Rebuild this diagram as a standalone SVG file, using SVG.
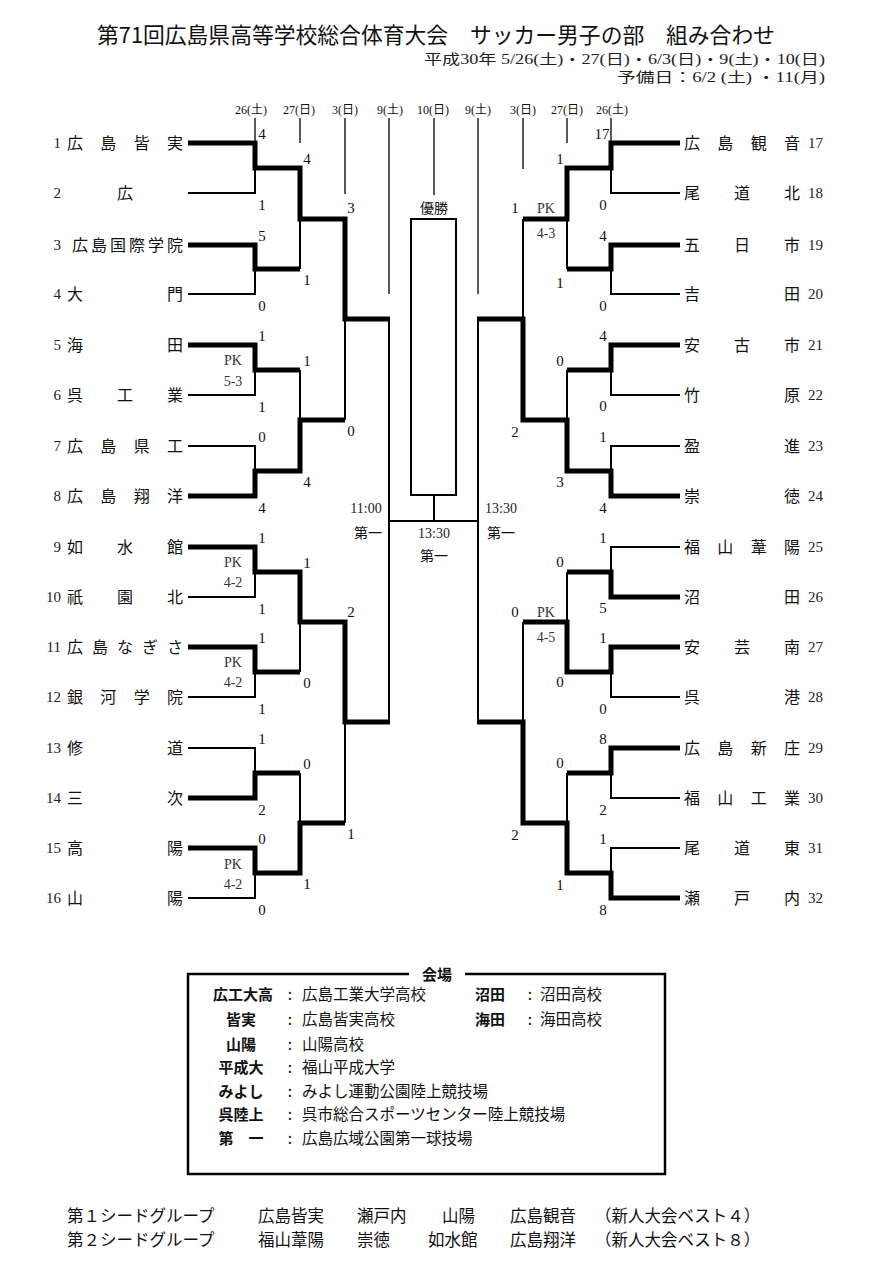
<svg xmlns="http://www.w3.org/2000/svg" width="877" height="1279" viewBox="0 0 877 1279">
<style>
.thin{stroke:#000;stroke-width:2;fill:none}
.thick{stroke:#000;stroke-width:5;fill:none;stroke-linejoin:miter}
.tick{stroke:#000;stroke-width:1.3;fill:none}
.name{font-family:"Noto Sans CJK JP",sans-serif;font-size:16px;fill:#111}
.num{font-family:"Liberation Serif","Noto Sans CJK JP",serif;font-size:15px;fill:#222}
.numr{font-family:"Liberation Serif","Noto Sans CJK JP",serif;font-size:15px;fill:#222}
.sc{font-family:"Liberation Serif",serif;font-size:15px;text-anchor:middle;fill:#111}
.pk{font-family:"Liberation Serif",serif;font-size:14px;text-anchor:middle;fill:#333}
.date{font-family:"Liberation Serif","Noto Sans CJK JP",serif;font-size:12px;text-anchor:middle;fill:#111}
.lbl{font-family:"Liberation Serif","Noto Sans CJK JP",serif;font-size:14px;text-anchor:middle;fill:#222}
.cjk{font-family:"Noto Sans CJK JP",sans-serif;fill:#111}
.v{font-family:"Noto Sans CJK JP",sans-serif;font-size:15.5px;fill:#111}
.vb{font-family:"Noto Sans CJK JP",sans-serif;font-size:15px;font-weight:bold;fill:#111;text-anchor:middle}
.ft{font-family:"Noto Sans CJK JP",sans-serif;font-size:16.5px;fill:#111}
</style>
<rect width="877" height="1279" fill="#fff"/>

<g id="header">
<text x="436" y="43" class="cjk" font-size="22" text-anchor="middle" textLength="678" lengthAdjust="spacingAndGlyphs">第71回広島県高等学校総合体育大会　サッカー男子の部　組み合わせ</text>
<text x="825" y="64" class="lbl" style="text-anchor:end" textLength="401" lengthAdjust="spacingAndGlyphs">平成30年 5/26(土)・27(日)・6/3(日)・9(土)・10(日)</text>
<text x="825" y="82" class="lbl" style="text-anchor:end" textLength="208" lengthAdjust="spacingAndGlyphs">予備日：6/2 (土) ・11(月)</text>
</g>

<g id="dates">
<text x="251" y="114" class="date">26(土)</text>
<text x="299" y="114" class="date">27(日)</text>
<text x="345" y="114" class="date">3(日)</text>
<text x="390" y="114" class="date">9(土)</text>
<text x="433" y="114" class="date">10(日)</text>
<text x="478" y="114" class="date">9(土)</text>
<text x="523" y="114" class="date">3(日)</text>
<text x="567" y="114" class="date">27(日)</text>
<text x="612" y="114" class="date">26(土)</text>
</g>

<g id="connectors">
<path class="tick" d="M255,118V143M300,118V143M345,118V194M389,118V294M434,118V195M478,118V294M523,118V169M567,118V143M611,118V143"/>
<path class="thin" d="M188,193H255V168M188,294H255V269M188,395H255V370M188,446H255V471M188,597H255V572M188,697H255V672M188,748H255V773M188,898H255V873"/>
<path class="thin" d="M300,219V269M300,370V420M300,622V672M300,773V823M345,319V420M345,722V823M389,319V722M389,521H478"/>
<path class="thin" d="M680,193H611V168M680,294H611V269M680,395H611V370M680,446H611V471M680,547H611V572M680,697H611V672M680,798H611V773M680,848H611V873"/>
<path class="thin" d="M567,219V269M567,370V420M567,572V622M567,773V823M523,219V319M523,622V722M478,319V722"/>
<path class="thick" d="M188,143H255V168H300V219H345V319H390"/>
<path class="thick" d="M188,245H255V269H300"/>
<path class="thick" d="M188,345H255V370H300"/>
<path class="thick" d="M188,496H255V471H300V420H345"/>
<path class="thick" d="M188,547H255V572H300V622H345V722H390"/>
<path class="thick" d="M188,647H255V672H300"/>
<path class="thick" d="M188,798H255V773H300"/>
<path class="thick" d="M188,848H255V873H300V823H345"/>
<path class="thick" d="M680,143H611V168H567V219H523"/>
<path class="thick" d="M680,245H611V269H567"/>
<path class="thick" d="M680,345H611V370H567"/>
<path class="thick" d="M680,496H611V471H567V420H523V319H477"/>
<path class="thick" d="M680,597H611V572H567"/>
<path class="thick" d="M680,647H611V672H567V622H523"/>
<path class="thick" d="M680,748H611V773H567"/>
<path class="thick" d="M680,898H611V873H567V823H523V722H477"/>
<path class="thin" d="M434,495V521"/>
</g>

<g id="champion">
<rect x="411" y="219" width="45" height="276" fill="none" stroke="#000" stroke-width="2"/>
<text x="434" y="213" class="cjk" font-size="14" text-anchor="middle">優勝</text>
<text x="434" y="538" class="lbl">13:30</text>
<text x="434" y="561" class="cjk" font-size="14" text-anchor="middle">第一</text>
</g>
<g id="semi-left-label">
<text x="366" y="513" class="lbl">11:00</text>
<text x="368" y="538" class="cjk" font-size="14" text-anchor="middle">第一</text>
</g>
<g id="semi-right-label">
<text x="501" y="513" class="lbl">13:30</text>
<text x="501" y="538" class="cjk" font-size="14" text-anchor="middle">第一</text>
</g>

<g id="scores">
<text x="262" y="139" class="sc">4</text><text x="262" y="210" class="sc">1</text>
<text x="262" y="241" class="sc">5</text><text x="262" y="311" class="sc">0</text>
<text x="262" y="341" class="sc">1</text><text x="262" y="412" class="sc">1</text>
<text x="262" y="442" class="sc">0</text><text x="262" y="513" class="sc">4</text>
<text x="262" y="543" class="sc">1</text><text x="262" y="614" class="sc">1</text>
<text x="262" y="643" class="sc">1</text><text x="262" y="714" class="sc">1</text>
<text x="262" y="744" class="sc">1</text><text x="262" y="815" class="sc">2</text>
<text x="262" y="844" class="sc">0</text><text x="262" y="915" class="sc">0</text>
<text x="233" y="365" class="pk">PK</text><text x="233" y="386" class="pk">5-3</text>
<text x="233" y="567" class="pk">PK</text><text x="233" y="587" class="pk">4-2</text>
<text x="233" y="667" class="pk">PK</text><text x="233" y="687" class="pk">4-2</text>
<text x="233" y="869" class="pk">PK</text><text x="233" y="889" class="pk">4-2</text>
<text x="307" y="164" class="sc">4</text><text x="307" y="285" class="sc">1</text>
<text x="307" y="366" class="sc">1</text><text x="307" y="487" class="sc">4</text>
<text x="307" y="568" class="sc">1</text><text x="307" y="688" class="sc">0</text>
<text x="307" y="769" class="sc">0</text><text x="307" y="889" class="sc">1</text>
<text x="351" y="213" class="sc">3</text><text x="351" y="436" class="sc">0</text>
<text x="351" y="617" class="sc">2</text><text x="351" y="839" class="sc">1</text>

<text x="602" y="139" class="sc">17</text><text x="603" y="210" class="sc">0</text>
<text x="603" y="241" class="sc">4</text><text x="603" y="311" class="sc">0</text>
<text x="603" y="341" class="sc">4</text><text x="603" y="411" class="sc">0</text>
<text x="603" y="442" class="sc">1</text><text x="603" y="513" class="sc">4</text>
<text x="603" y="543" class="sc">1</text><text x="603" y="613" class="sc">5</text>
<text x="603" y="643" class="sc">1</text><text x="603" y="714" class="sc">0</text>
<text x="603" y="744" class="sc">8</text><text x="603" y="815" class="sc">2</text>
<text x="603" y="844" class="sc">1</text><text x="603" y="915" class="sc">8</text>
<text x="560" y="164" class="sc">1</text><text x="560" y="288" class="sc">1</text>
<text x="560" y="366" class="sc">0</text><text x="560" y="487" class="sc">3</text>
<text x="560" y="567" class="sc">0</text><text x="560" y="687" class="sc">0</text>
<text x="560" y="768" class="sc">0</text><text x="560" y="890" class="sc">1</text>
<text x="515" y="213" class="sc">1</text><text x="515" y="437" class="sc">2</text>
<text x="515" y="617" class="sc">0</text><text x="515" y="840" class="sc">2</text>
<text x="546" y="213" class="pk">PK</text><text x="546" y="238" class="pk">4-3</text>
<text x="546" y="617" class="pk">PK</text><text x="546" y="642" class="pk">4-5</text>
</g>

<g id="team-1"><text x="61" y="148" class="num" text-anchor="end">1</text><text x="67 100.3 133.7 167" y="149" class="name">広島皆実</text></g>
<g id="team-2"><text x="61" y="198" class="num" text-anchor="end">2</text><text x="117" y="199" class="name">広</text></g>
<g id="team-3"><text x="61" y="250" class="num" text-anchor="end">3</text><text x="72 91 110 129 148 167" y="251" class="name">広島国際学院</text></g>
<g id="team-4"><text x="61" y="299" class="num" text-anchor="end">4</text><text x="67 167" y="300" class="name">大門</text></g>
<g id="team-5"><text x="61" y="350" class="num" text-anchor="end">5</text><text x="67 167" y="351" class="name">海田</text></g>
<g id="team-6"><text x="61" y="400" class="num" text-anchor="end">6</text><text x="67 117 167" y="401" class="name">呉工業</text></g>
<g id="team-7"><text x="61" y="451" class="num" text-anchor="end">7</text><text x="67 100.3 133.7 167" y="452" class="name">広島県工</text></g>
<g id="team-8"><text x="61" y="501" class="num" text-anchor="end">8</text><text x="67 100.3 133.7 167" y="502" class="name">広島翔洋</text></g>
<g id="team-9"><text x="61" y="552" class="num" text-anchor="end">9</text><text x="67 117 167" y="553" class="name">如水館</text></g>
<g id="team-10"><text x="61" y="602" class="num" text-anchor="end">10</text><text x="67 117 167" y="603" class="name">祇園北</text></g>
<g id="team-11"><text x="61" y="652" class="num" text-anchor="end">11</text><text x="67 92 117 142 167" y="653" class="name">広島なぎさ</text></g>
<g id="team-12"><text x="61" y="702" class="num" text-anchor="end">12</text><text x="67 100.3 133.7 167" y="703" class="name">銀河学院</text></g>
<g id="team-13"><text x="61" y="753" class="num" text-anchor="end">13</text><text x="67 167" y="754" class="name">修道</text></g>
<g id="team-14"><text x="61" y="803" class="num" text-anchor="end">14</text><text x="67 167" y="804" class="name">三次</text></g>
<g id="team-15"><text x="61" y="853" class="num" text-anchor="end">15</text><text x="67 167" y="854" class="name">高陽</text></g>
<g id="team-16"><text x="61" y="903" class="num" text-anchor="end">16</text><text x="67 167" y="904" class="name">山陽</text></g>

<g id="team-17"><text x="684 717.3 750.7 784" y="149" class="name">広島観音</text><text x="808" y="148" class="numr">17</text></g>
<g id="team-18"><text x="684 734 784" y="199" class="name">尾道北</text><text x="808" y="198" class="numr">18</text></g>
<g id="team-19"><text x="684 734 784" y="251" class="name">五日市</text><text x="808" y="250" class="numr">19</text></g>
<g id="team-20"><text x="684 784" y="300" class="name">吉田</text><text x="808" y="299" class="numr">20</text></g>
<g id="team-21"><text x="684 734 784" y="351" class="name">安古市</text><text x="808" y="350" class="numr">21</text></g>
<g id="team-22"><text x="684 784" y="401" class="name">竹原</text><text x="808" y="400" class="numr">22</text></g>
<g id="team-23"><text x="684 784" y="452" class="name">盈進</text><text x="808" y="451" class="numr">23</text></g>
<g id="team-24"><text x="684 784" y="502" class="name">崇徳</text><text x="808" y="501" class="numr">24</text></g>
<g id="team-25"><text x="684 717.3 750.7 784" y="553" class="name">福山葦陽</text><text x="808" y="552" class="numr">25</text></g>
<g id="team-26"><text x="684 784" y="603" class="name">沼田</text><text x="808" y="602" class="numr">26</text></g>
<g id="team-27"><text x="684 734 784" y="653" class="name">安芸南</text><text x="808" y="652" class="numr">27</text></g>
<g id="team-28"><text x="684 784" y="703" class="name">呉港</text><text x="808" y="702" class="numr">28</text></g>
<g id="team-29"><text x="684 717.3 750.7 784" y="754" class="name">広島新庄</text><text x="808" y="753" class="numr">29</text></g>
<g id="team-30"><text x="684 717.3 750.7 784" y="804" class="name">福山工業</text><text x="808" y="803" class="numr">30</text></g>
<g id="team-31"><text x="684 734 784" y="854" class="name">尾道東</text><text x="808" y="853" class="numr">31</text></g>
<g id="team-32"><text x="684 734 784" y="904" class="name">瀬戸内</text><text x="808" y="903" class="numr">32</text></g>

<g id="venues">
<rect x="188" y="974" width="477" height="200" fill="none" stroke="#000" stroke-width="2.5"/>
<rect x="409" y="964" width="56" height="20" fill="#fff"/>
<text x="437" y="980" class="cjk" font-size="15" font-weight="bold" text-anchor="middle">会場</text>
<text x="243" y="1000" class="vb">広工大高</text><text x="290" y="1000" class="v" text-anchor="middle">:</text><text x="302" y="1000" class="v">広島工業大学高校</text>
<text x="241" y="1025" class="vb">皆実</text><text x="290" y="1025" class="v" text-anchor="middle">:</text><text x="302" y="1025" class="v">広島皆実高校</text>
<text x="241" y="1050" class="vb">山陽</text><text x="290" y="1050" class="v" text-anchor="middle">:</text><text x="302" y="1050" class="v">山陽高校</text>
<text x="241" y="1073" class="vb">平成大</text><text x="290" y="1073" class="v" text-anchor="middle">:</text><text x="302" y="1073" class="v">福山平成大学</text>
<text x="241" y="1097" class="vb">みよし</text><text x="290" y="1097" class="v" text-anchor="middle">:</text><text x="302" y="1097" class="v">みよし運動公園陸上競技場</text>
<text x="241" y="1120" class="vb">呉陸上</text><text x="290" y="1120" class="v" text-anchor="middle">:</text><text x="302" y="1120" class="v">呉市総合スポーツセンター陸上競技場</text>
<text x="241" y="1144" class="vb">第　一</text><text x="290" y="1144" class="v" text-anchor="middle">:</text><text x="302" y="1144" class="v">広島広域公園第一球技場</text>
<text x="490" y="1000" class="vb">沼田</text><text x="530" y="1000" class="v" text-anchor="middle">:</text><text x="540" y="1000" class="v">沼田高校</text>
<text x="490" y="1025" class="vb">海田</text><text x="530" y="1025" class="v" text-anchor="middle">:</text><text x="540" y="1025" class="v">海田高校</text>
</g>

<g id="seeds">
<text x="67" y="1222" class="ft">第１シードグループ</text>
<text x="258" y="1222" class="ft">広島皆実</text>
<text x="357" y="1222" class="ft">瀬戸内</text>
<text x="442" y="1222" class="ft">山陽</text>
<text x="510" y="1222" class="ft">広島観音</text>
<text x="595" y="1222" class="ft">（新人大会ベスト４）</text>
<text x="67" y="1246" class="ft">第２シードグループ</text>
<text x="258" y="1246" class="ft">福山葦陽</text>
<text x="357" y="1246" class="ft">崇徳</text>
<text x="428" y="1246" class="ft">如水館</text>
<text x="510" y="1246" class="ft">広島翔洋</text>
<text x="595" y="1246" class="ft">（新人大会ベスト８）</text>
</g>
</svg>
